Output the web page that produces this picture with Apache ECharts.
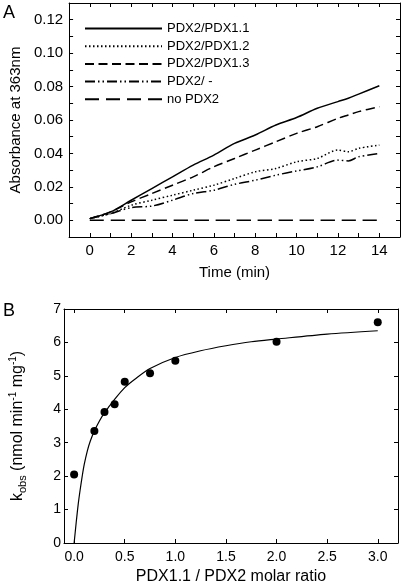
<!DOCTYPE html>
<html><head><meta charset="utf-8">
<script src="https://cdn.jsdelivr.net/npm/echarts@6/dist/echarts.min.js"></script>
<style>html,body{margin:0;padding:0;background:#fff}#c{width:403px;height:587px}</style>
</head><body><div id="c"></div>
<script>
// ---- Panel A data ----
var timeMin = [0, 1, 2, 3, 4, 5, 6, 7, 8, 9, 10, 11, 12, 12.5, 13, 14];
var pdx11 = [0.001, 0.005, 0.012, 0.019, 0.026, 0.033, 0.039, 0.046, 0.051, 0.057, 0.0615, 0.067, 0.071, 0.073, 0.0755, 0.0805];
var pdx12 = [0.001, 0.004, 0.009, 0.012, 0.015, 0.018, 0.021, 0.025, 0.029, 0.031, 0.035, 0.037, 0.042, 0.041, 0.043, 0.045];
var pdx13 = [0.001, 0.005, 0.011, 0.016, 0.021, 0.026, 0.032, 0.037, 0.042, 0.047, 0.052, 0.056, 0.061, 0.063, 0.065, 0.068];
var pdx2only = [0.001, 0.004, 0.0076, 0.0085, 0.012, 0.016, 0.018, 0.0215, 0.024, 0.027, 0.0295, 0.032, 0.036, 0.0355, 0.038, 0.040];
var noPdx2 = [0, 0, 0, 0, 0, 0, 0, 0, 0, 0, 0, 0, 0, 0, 0, 0];
var seriesNamesA = ['PDX2/PDX1.1', 'PDX2/PDX1.2', 'PDX2/PDX1.3', 'PDX2/ -', 'no PDX2'];
var xLabelsA = [0, 2, 4, 6, 8, 10, 12, 14];
var xTicksA = [0, 1, 2, 3, 4, 5, 6, 7, 8, 9, 10, 11, 12, 13, 14];
var yLabelsA = [0, 0.02, 0.04, 0.06, 0.08, 0.10, 0.12];
var yTicksA = [0, 0.01, 0.02, 0.03, 0.04, 0.05, 0.06, 0.07, 0.08, 0.09, 0.10, 0.11, 0.12];

// ---- Panel B data ----
var ratioPts = [0, 0.2, 0.3, 0.4, 0.5, 0.75, 1.0, 2.0, 3.0];
var kobsPts = [2.05, 3.35, 3.92, 4.15, 4.82, 5.08, 5.45, 6.02, 6.6];
var ratioFit = [0, 0.01, 0.02, 0.04, 0.06, 0.08, 0.1, 0.13, 0.16, 0.2, 0.25, 0.3, 0.35, 0.4, 0.5, 0.6, 0.75, 1.0, 1.25, 1.5, 1.75, 2.0, 2.5, 3.0];
var kobsFit = [0, 0.3, 0.6, 1.15, 1.6, 2.0, 2.35, 2.75, 3.05, 3.35, 3.65, 3.9, 4.1, 4.3, 4.65, 4.9, 5.22, 5.55, 5.75, 5.9, 6.02, 6.1, 6.25, 6.35];
var xLabelsB = [0, 0.5, 1.0, 1.5, 2.0, 2.5, 3.0];
var yLabelsB = [0, 1, 2, 3, 4, 5, 6, 7];

function zip(a, b) { return a.map(function (v, i) { return [v, b[i]]; }); }

var FONT = 'Liberation Sans, Arial, sans-serif';
var axisLineStyle = { show: true, onZero: false, lineStyle: { color: '#000', width: 1 } };

function mkAxis(grid, pos, min, max, ticks, labels, fmt, fs, margin, name, nameGap, nameStyle) {
  return {
    type: 'value', gridIndex: grid, position: pos, min: min, max: max,
    axisLine: axisLineStyle,
    axisTick: { show: true, inside: true, length: 4, lineStyle: { color: '#000' }, customValues: ticks },
    axisLabel: labels ? { show: true, customValues: labels, formatter: fmt, color: '#000', fontSize: fs, fontFamily: FONT, margin: margin } : { show: false },
    splitLine: { show: false },
    name: name || '', nameLocation: 'middle', nameGap: nameGap || 0,
    nameTextStyle: nameStyle || { color: '#000', fontSize: 15, fontFamily: FONT }
  };
}

var fmtInt = function (v) { return String(Math.round(v)); };
var fmt2 = function (v) { return v.toFixed(2); };
var fmt1 = function (v) { return v.toFixed(1); };

var chart = echarts.init(document.getElementById('c'), null, { renderer: 'canvas' });
var lineTypes = ['solid', [1.5, 2.5], [9, 4.5], [10, 3, 1.5, 3, 1.5, 3], [14, 7]];
var dataA = [pdx11, pdx12, pdx13, pdx2only, noPdx2];

var seriesA = dataA.map(function (d, i) {
  return {
    name: seriesNamesA[i], type: 'line', xAxisIndex: 0, yAxisIndex: 0,
    data: zip(timeMin, d), showSymbol: false, symbol: 'none', smooth: 0.3,
    lineStyle: { color: '#000', width: 1.5, type: lineTypes[i] },
    itemStyle: { color: '#000' }, animation: false
  };
});

var option = {
  animation: false,
  backgroundColor: '#fff',
  grid: [
    { left: 64, top: 3, width: 336, height: 234 },
    { left: 64, top: 309, width: 334, height: 234 }
  ],
  legend: {
    data: seriesNamesA, orient: 'vertical', left: 79, top: 17,
    itemWidth: 77, itemHeight: 14, itemGap: 4.7,
    itemStyle: { opacity: 0, borderWidth: 0 },
    textStyle: { color: '#000', fontSize: 13, fontFamily: FONT },
    selectedMode: false
  },
  xAxis: [
    mkAxis(0, 'bottom', -1, 15, xTicksA, xLabelsA, fmtInt, 15, 6, 'Time (min)', 28, { color: '#000', fontSize: 15, fontFamily: FONT }),
    mkAxis(0, 'top', -1, 15, xTicksA, null),
    mkAxis(1, 'bottom', -0.1, 3.2, xLabelsB, xLabelsB, fmt1, 14, 7, 'PDX1.1 / PDX2 molar ratio', 26, { color: '#000', fontSize: 16, fontFamily: FONT }),
    mkAxis(1, 'top', -0.1, 3.2, xLabelsB, null)
  ],
  yAxis: [
    mkAxis(0, 'left', -0.01, 0.13, yTicksA, yLabelsA, fmt2, 15, 6, 'Absorbance at 363nm', 43),
    mkAxis(0, 'right', -0.01, 0.13, yTicksA, null),
    mkAxis(1, 'left', 0, 7, yLabelsB, yLabelsB, fmtInt, 14, 3,
      '{n|k}{sub|obs}{n| (nmol min}{sup|-1}{n| mg}{sup|-1}{n|)}', 36,
      { color: '#000', fontSize: 16, fontFamily: FONT,
        rich: {
          n: { fontSize: 16, fontFamily: FONT, color: '#000', lineHeight: 20, verticalAlign: 'middle' },
          sub: { fontSize: 11, fontFamily: FONT, color: '#000', lineHeight: 20, verticalAlign: 'bottom' },
          sup: { fontSize: 10, fontFamily: FONT, color: '#000', lineHeight: 10, verticalAlign: 'top' }
        } }),
    mkAxis(1, 'right', 0, 7, yLabelsB, null)
  ],
  series: seriesA.concat([
    {
      name: 'fit', type: 'line', xAxisIndex: 2, yAxisIndex: 2,
      data: zip(ratioFit, kobsFit), showSymbol: false, symbol: 'none', smooth: 0.3,
      lineStyle: { color: '#000', width: 1.2 }, animation: false
    },
    {
      name: 'kobs', type: 'scatter', xAxisIndex: 2, yAxisIndex: 2,
      data: zip(ratioPts, kobsPts), symbol: 'circle', symbolSize: 8,
      itemStyle: { color: '#000', opacity: 1 }, animation: false
    }
  ]),
  graphic: [
    { type: 'text', left: 3, top: 4, style: { text: 'A', fontSize: 18, fontFamily: FONT, fill: '#000' } },
    { type: 'text', left: 3, top: 302, style: { text: 'B', fontSize: 18, fontFamily: FONT, fill: '#000' } }
  ]
};
chart.setOption(option);
</script>
</body></html>
